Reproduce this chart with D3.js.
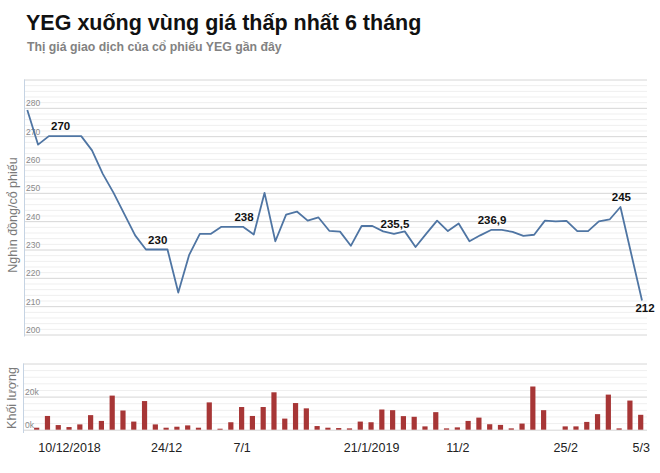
<!DOCTYPE html>
<html><head><meta charset="utf-8">
<script src="https://cdn.jsdelivr.net/npm/d3@7"></script>
<style>body{margin:0;background:#fff}svg{display:block}</style>
</head><body><svg id="c" width="660" height="473"></svg>
<script>
const title = "YEG xuống vùng giá thấp nhất 6 tháng";
const subtitle = "Thị giá giao dịch của cổ phiếu YEG gần đây";
const priceTitle = "Nghìn đồng/cổ phiếu";
const volumeTitle = "Khối lượng";

// one value per trading session (index 0..57)
const price = [279.2, 267, 270, 270, 270, 270, 265, 256.7, 250, 242.5,
  235, 230, 230, 230, 214.8, 228, 235.5, 235.5, 238, 238,
  238, 235.3, 250, 232.9, 242.3, 243.4, 240.2, 241.3, 236.6, 236.3,
  231.3, 238.3, 238.3, 236.4, 235.5, 236.4, 230.9, 235.6, 240.2, 236.5,
  239.2, 232.9, 235, 236.9, 236.9, 236.2, 234.8, 235.2, 240.2, 239.9,
  240.1, 236.5, 236.5, 239.9, 240.6, 245, 228.5, 212];
const volume = [0, 1200, 8300, 2800, 1600, 3200, 8800, 5300, 20600, 11600,
  4900, 17300, 3200, 1200, 1800, 2600, 1200, 16500, 600, 4500,
  13700, 8300, 13700, 22600, 6700, 16100, 12900, 2200, 1200, 1000,
  800, 4900, 4500, 12200, 11800, 8200, 7800, 2000, 10600, 800,
  1400, 5300, 7300, 3300, 2900, 800, 3700, 26100, 11800, 0,
  2000, 2000, 4700, 9400, 21200, 800, 17600, 9000];
const sessions = price.map((_, i) => i);
const tickSessions = [4, 13, 20, 32, 40, 50, 57];
const tickLabels = ["10/12/2018", "24/12", "7/1", "21/1/2019", "11/2", "25/2", "5/3"];
const labelled = [3, 12, 20, 34, 43, 55, 57];
const priceTicks = [200, 210, 220, 230, 240, 250, 260, 270, 280];
const volumeTicks = [0, 20000];

const FONT = "Arial, 'Liberation Sans', sans-serif";
const svg = d3.select("#c").style("font-family", FONT);

svg.append("text").attr("x", 26).attr("y", 29.5)
  .attr("font-size", 21.5).attr("font-weight", "bold").attr("fill", "#111").text(title);
svg.append("text").attr("x", 27).attr("y", 51)
  .attr("font-size", 12.3).attr("font-weight", "bold").attr("fill", "#828282").text(subtitle);

const L = 24, R = 647;
// ---------- price panel
const pTop = 79.5, pBot = 334.5;
const x = d3.scalePoint().domain(sessions).range([27.3, 642]);
const y = d3.scaleLinear().domain([200, 290]).range([pBot, pTop]);

const gP = svg.append("g");
gP.selectAll("line.minor").data(d3.range(200, 290.1, 2)).join("line")
  .attr("x1", L).attr("x2", R).attr("y1", d => y(d) + 0.5).attr("y2", d => y(d) + 0.5)
  .attr("stroke", d => d % 10 === 0 ? "#d6d6d6" : "#efefef").attr("stroke-width", 1);
gP.append("line").attr("x1", L + 0.5).attr("x2", L + 0.5).attr("y1", pTop).attr("y2", pBot + 2)
  .attr("stroke", "#c5d3e3");

const yAx = gP.append("g").attr("transform", `translate(${L + 2},0)`)
  .call(d3.axisRight(y).tickValues(priceTicks).tickSize(0).tickPadding(0));
yAx.select(".domain").remove();
yAx.selectAll("text").attr("dy", "-0.25em").attr("font-size", 8.5).attr("fill", "#8a8a8a")
  .style("font-family", FONT);

svg.append("text").attr("transform", "translate(17,215) rotate(-90)")
  .attr("text-anchor", "middle").attr("font-size", 12.5).attr("fill", "#7a7a7a").text(priceTitle);

gP.append("path").datum(price)
  .attr("d", d3.line().x((d, i) => x(i)).y(d => y(d)))
  .attr("fill", "none").attr("stroke", "#4f75a3").attr("stroke-width", 1.8)
  .attr("stroke-linejoin", "round");

const fmt = v => d3.format(",~r")(v).replace(".", ",");
gP.selectAll("text.lab").data(labelled).join("text").attr("class", "lab")
  .attr("x", i => x(i) + (i === 57 ? 3 : 1))
  .attr("y", i => i === 57 ? y(price[i]) + 11 : y(price[i]) - 6)
  .attr("text-anchor", "middle").attr("font-size", 11.5).attr("font-weight", "bold")
  .attr("fill", "#111").text(i => fmt(price[i]));

// ---------- volume panel
const vTop = 363.5, vBot = 433;
const xv = d3.scalePoint().domain(sessions).range([25.9, 640.7]);
const yv = d3.scaleLinear().domain([-2000, 40000]).range([vBot, vTop]);
const gV = svg.append("g");
gV.selectAll("line.vg").data(d3.range(0, 40001, 4000)).join("line")
  .attr("x1", 23).attr("x2", R).attr("y1", d => yv(d) + 0.5).attr("y2", d => yv(d) + 0.5)
  .attr("stroke", d => d % 20000 === 0 ? "#d6d6d6" : "#efefef");
gV.append("line").attr("x1", 23.5).attr("x2", 23.5).attr("y1", vTop).attr("y2", vBot)
  .attr("stroke", "#c5d3e3");
const yvAx = gV.append("g").attr("transform", "translate(25,0)")
  .call(d3.axisRight(yv).tickValues(volumeTicks).tickSize(0).tickPadding(0)
    .tickFormat(d => (d / 1000) + "k"));
yvAx.select(".domain").remove();
yvAx.selectAll("text").attr("dy", "-0.25em").attr("font-size", 8.5).attr("fill", "#8a8a8a")
  .style("font-family", FONT);

gV.selectAll("rect").data(volume).join("rect")
  .attr("x", (d, i) => xv(i) - 2.6).attr("width", 5.2)
  .attr("y", d => yv(d)).attr("height", d => Math.max(0, yv(0) - yv(d)))
  .attr("fill", "#a73636");

svg.append("text").attr("transform", "translate(16,398) rotate(-90)")
  .attr("text-anchor", "middle").attr("font-size", 12.5).attr("fill", "#7a7a7a").text(volumeTitle);

const xAx = svg.append("g").attr("transform", "translate(0,441)")
  .call(d3.axisBottom(xv).tickValues(tickSessions).tickSize(0).tickPadding(0)
    .tickFormat(i => tickLabels[tickSessions.indexOf(i)]));
xAx.select(".domain").remove();
xAx.selectAll("text").attr("font-size", 12.5).attr("fill", "#222").attr("dy", "0.9em")
  .style("font-family", FONT);
</script>
</body></html>
